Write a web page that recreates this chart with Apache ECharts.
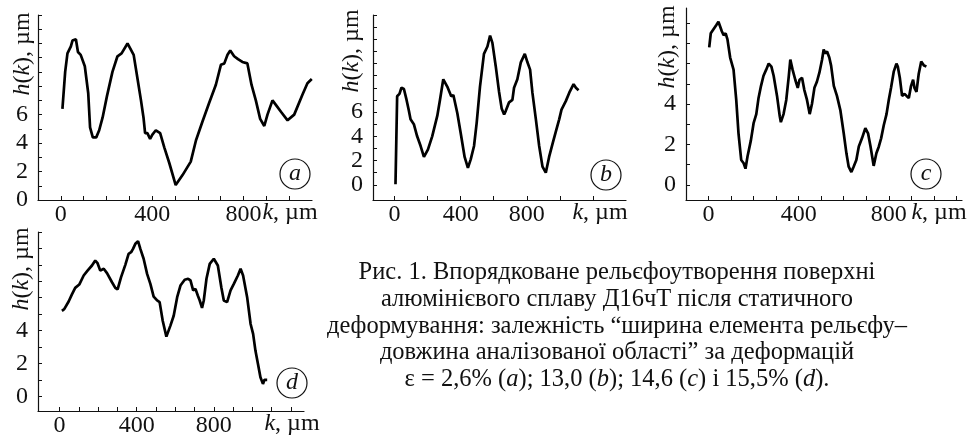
<!DOCTYPE html>
<html>
<head>
<meta charset="utf-8">
<script src="https://cdn.jsdelivr.net/npm/echarts@6/dist/echarts.min.js"></script>
<style>
html,body{margin:0;padding:0;background:#fff;}
#c{width:968px;height:438px;}
</style>
</head>
<body>
<div id="c"></div>
<script>
// ---- data (k in µm, h in µm) ----
const aK = [7,19,29,44,51,66,75,87,105,120,128,140,155,168,183,202,226,248,266,292,299,319,336,351,362,369,379,391,401,416,435,453,475,503,533,569,592,620,649,679,701,716,730,742,759,776,795,817,835,854,873,891,905,927,941,964,993,1022,1058,1080,1099];
const aH = [6.4,9.0,10.3,10.8,11.2,11.3,10.4,10.2,9.4,7.5,5.1,4.4,4.4,4.9,5.8,7.3,9.0,10.1,10.3,11.0,10.9,10.2,8.5,7.0,5.8,4.7,4.7,4.3,4.6,4.9,4.7,3.7,2.6,1.05,1.75,2.7,4.2,5.5,6.8,8.1,9.5,9.6,10.2,10.5,10.1,9.9,9.7,9.6,8.1,7.0,5.7,5.2,6.0,7.0,6.7,6.2,5.6,6.0,7.4,8.2,8.5];

const bK = [6,16,30,42,57,73,87,97,107,117,137,158,178,188,202,228,259,275,295,319,343,356,380,400,424,444,461,481,497,517,541,562,578,592,612,632,648,663,673,693,713,723,743,764,788,804,820,834,855,875,895,915,935,956,976,996,1010,1036,1057,1083,1097,1113];
const bH = [0.05,7.3,7.5,8.0,7.9,7.0,6.1,5.4,5.5,5.0,4.0,3.2,2.3,2.2,2.9,4.0,5.7,7.0,8.7,8.1,7.3,7.4,5.9,4.3,2.3,1.4,2.1,3.2,5.1,8.1,10.8,11.4,12.3,11.7,9.8,7.7,6.3,5.8,6.1,6.8,7.0,8.0,8.7,10.1,10.8,10.1,9.5,7.6,5.4,3.2,1.5,1.0,2.3,3.4,4.4,5.4,6.2,6.9,7.6,8.3,8.0,7.8];

const cK = [3,10,22,34,44,52,59,67,76,84,96,111,123,133,145,156,164,173,188,200,212,222,233,244,256,267,279,289,304,316,321,333,345,356,363,373,385,396,404,415,425,437,449,459,470,481,492,504,511,519,526,536,544,556,570,585,600,612,622,634,644,656,667,681,696,708,719,733,745,756,766,778,790,800,810,822,834,840,849,859,870,879,889,899,908,914,923,933,944,956,967];
const cH = [6.8,7.5,7.7,7.9,8.07,8.0,7.6,7.4,7.5,7.2,6.3,5.7,4.2,2.55,1.23,1.07,0.8,1.4,2.2,3.05,3.5,4.3,4.9,5.4,5.7,6.0,5.85,5.4,4.4,3.4,3.1,3.5,4.2,5.35,6.2,5.7,5.2,4.8,5.2,5.3,4.7,4.2,3.5,4.0,4.8,5.1,5.55,6.2,6.7,6.5,6.6,6.3,5.9,4.9,4.4,3.7,2.55,1.56,0.9,0.63,0.9,1.23,1.9,2.3,2.8,2.55,1.9,0.94,1.56,1.9,2.3,2.96,3.5,4.2,4.8,5.6,6.0,5.85,5.3,4.4,4.5,4.4,4.3,4.9,5.2,4.8,4.6,5.5,6.1,5.9,5.85];

const dK = [12,24,47,64,81,102,125,145,168,185,197,211,229,246,272,289,301,319,341,358,371,381,393,407,419,436,454,471,488,506,519,535,554,575,592,610,627,649,667,679,693,705,717,727,739,748,762,779,800,821,839,852,869,887,904,925,939,952,973,991,1004,1016,1029,1042,1055,1063,1077];
const dH = [5.2,5.3,5.77,6.2,6.6,6.8,7.35,7.65,7.96,8.26,8.1,7.65,7.76,7.5,6.94,6.6,6.5,7.25,8.0,8.67,8.77,8.97,9.28,9.44,8.97,8.37,7.45,6.84,6.07,5.83,5.73,4.6,3.63,4.3,4.9,6.03,6.74,7.09,7.15,7.05,6.44,6.54,6.13,5.83,5.38,5.83,7.15,8.06,8.37,7.96,6.64,5.83,5.73,6.44,6.84,7.35,7.76,7.35,6.03,4.4,3.8,2.78,1.97,1.16,0.75,1.0,1.0];

const xLabels = [0, 400, 800];
const aYLabels = [0, 2, 4, 6];
const bYLabels = [0, 2, 4, 6];
const cYLabels = [0, 2, 4];
const dYLabels = [0, 2, 4];
const panelLetters = ['a', 'b', 'c', 'd'];
const captionLines = [
  'Рис. 1. Впорядковане рельєфоутворення поверхні',
  'алюмінієвого сплаву Д16чТ після статичного',
  'деформування: залежність “ширина елемента рельєфу–',
  'довжина аналізованої області” за деформацій',
  'ε = 2,6% ({i|a}); 13,0 ({i|b}); 14,6 ({i|c}) і 15,5% ({i|d}).'
];

function range(a, b, s) { const r = []; for (let v = a; v <= b + 1e-9; v += s) r.push(v); return r; }
function zip(k, h) { return k.map((v, i) => [v, h[i]]); }

const FONT = 'Liberation Serif';
const INK = '#111';
const FS = 24;

const panels = [
  {grid:{left:38, top:15, width:274, height:185}, x:[-100,1100], y:[0,13], xt:range(0,1000,100), yt:range(0,13,1), yl:aYLabels, data:zip(aK,aH)},
  {grid:{left:373, top:15, width:253, height:185}, x:[-130,1400], y:[-1.25,14], xt:range(0,1200,200), yt:range(0,14,1), yl:bYLabels, data:zip(bK,bH)},
  {grid:{left:686, top:8, width:276, height:192}, x:[-100,1125], y:[-0.75,8.75], xt:range(0,1100,100), yt:range(0,8,1), yl:cYLabels, data:zip(cK,cH)},
  {grid:{left:38, top:232, width:266, height:179}, x:[-112,1268], y:[-0.9,10], xt:range(0,1200,100), yt:range(0,10,1), yl:dYLabels, data:zip(dK,dH)}
];

const grids = [], xAxes = [], yAxes = [], series = [];
panels.forEach((p, i) => {
  grids.push(Object.assign({outerBoundsMode:'none', containLabel:false}, p.grid));
  xAxes.push({
    type:'value', gridIndex:i, min:p.x[0], max:p.x[1],
    axisLine:{onZero:false, lineStyle:{color:INK, width:1.2}},
    axisTick:{show:true, inside:true, length:4, customValues:p.xt, lineStyle:{color:INK, width:1}},
    axisLabel:{customValues:xLabels, color:INK, fontFamily:FONT, fontSize:FS, margin:3},
    splitLine:{show:false}
  });
  yAxes.push({
    type:'value', gridIndex:i, min:p.y[0], max:p.y[1],
    axisLine:{show:true, onZero:false, lineStyle:{color:INK, width:1.2}},
    axisTick:{show:true, inside:true, length:4, customValues:p.yt, lineStyle:{color:INK, width:1}},
    axisLabel:{customValues:p.yl, color:INK, fontFamily:FONT, fontSize:FS, margin:10},
    splitLine:{show:false}
  });
  series.push({
    type:'line', xAxisIndex:i, yAxisIndex:i, data:p.data, symbol:'none', smooth:false,
    lineStyle:{color:'#000', width:2.7}, silent:true, animation:false
  });
});

function txt(x, y, text, size, extra) {
  const rich = {i:{fontStyle:'italic', fontFamily:FONT, fontSize:size, fill:INK, color:INK}};
  return Object.assign({
    type:'text', x:x, y:y, silent:true,
    style:{text:text, fontFamily:FONT, fontSize:size, fill:INK, align:'center', verticalAlign:'middle', textAlign:'center', textVerticalAlign:'middle', rich:rich}
  }, extra || {});
}

const graphic = [];
// y-axis titles
[[23,54],[352,51],[668,47],[22,269]].forEach(c => {
  graphic.push(txt(c[0], c[1], '{i|h}({i|k}), µm', FS, {rotation:Math.PI/2}));
});
// x-axis titles
[[290,213],[600,213],[939,213],[292,424]].forEach(c => {
  graphic.push(txt(c[0], c[1], '{i|k}, µm', FS));
});
// panel letters in circles
[[295,174],[606,175],[926,174],[292,383]].forEach((c, i) => {
  graphic.push({type:'circle', shape:{cx:c[0], cy:c[1], r:15}, style:{fill:'none', stroke:INK, lineWidth:1.2}, silent:true});
  graphic.push(txt(c[0], c[1], '{i|' + panelLetters[i] + '}', FS));
});
// caption
captionLines.forEach((l, i) => {
  graphic.push(txt(617, 273 + i * 26.6, l, 24.5));
});

const chart = echarts.init(document.getElementById('c'), null, {renderer:'canvas'});
chart.setOption({
  animation:false,
  backgroundColor:'#fff',
  grid:grids, xAxis:xAxes, yAxis:yAxes, series:series, graphic:graphic
});
</script>
</body>
</html>
